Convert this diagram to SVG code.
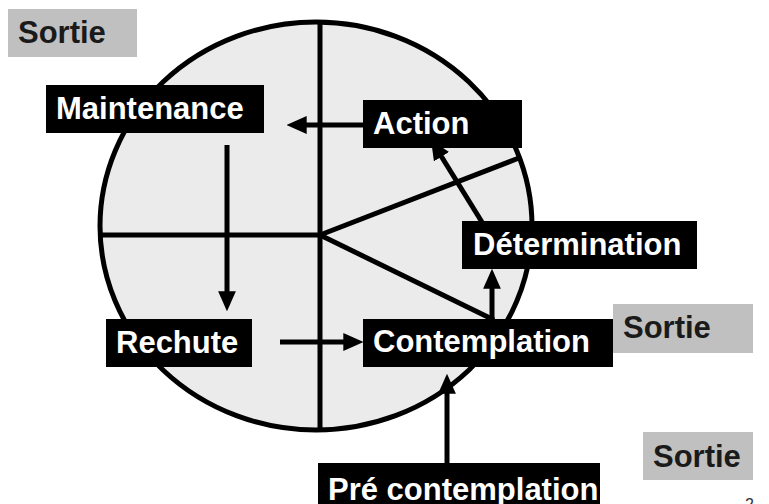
<svg xmlns="http://www.w3.org/2000/svg" width="769" height="504" viewBox="0 0 769 504">
<style>
.lbl{font-family:"Liberation Sans",Arial,sans-serif;font-weight:bold;font-size:31px}
.w{fill:#ffffff}
.d{fill:#1a1a1a}
.blk{fill:#000000}
.gry{fill:#c0c0c0}
.div{stroke:#000;stroke-width:5;fill:none}
.con{stroke:#000;stroke-width:5;fill:none;marker-end:url(#ah)}
</style>
<defs>
<marker id="ah" markerUnits="userSpaceOnUse" markerWidth="20" markerHeight="18" viewBox="0 0 18 16" refX="6" refY="8" orient="auto">
<path d="M0,0 L18,8 L0,16 z" fill="#000"/>
</marker>
</defs>
<rect width="769" height="504" fill="#ffffff"/>
<g id="wheel">
<ellipse cx="316" cy="226" rx="216" ry="204" fill="#ebebeb" stroke="#000" stroke-width="5"/>
<line class="div" x1="320" y1="22" x2="320" y2="430"/>
<line class="div" x1="102" y1="235" x2="320" y2="235"/>
<line class="div" x1="320" y1="235" x2="519" y2="158"/>
<line class="div" x1="320" y1="235" x2="494" y2="320"/>
</g>
<g id="connectors">
<line class="con" x1="364" y1="125" x2="300" y2="125"/>
<line class="con" x1="227" y1="145" x2="227" y2="298"/>
<line class="con" x1="280" y1="342" x2="350" y2="342"/>
<line class="con" x1="492" y1="327" x2="492" y2="282"/>
<line class="con" x1="485" y1="227" x2="438" y2="151"/>
<line class="con" x1="447" y1="470" x2="447" y2="387"/>
</g>
<g id="sortie1">
<rect class="gry" x="8" y="9" width="129" height="48"/>
<text class="lbl d" x="18" y="43">Sortie</text>
</g>
<g id="maintenance">
<rect class="blk" x="46" y="85" width="218" height="48"/>
<text class="lbl w" x="56" y="119">Maintenance</text>
</g>
<g id="action">
<rect class="blk" x="363" y="100" width="159" height="48"/>
<text class="lbl w" x="373" y="134">Action</text>
</g>
<g id="determination">
<rect class="blk" x="462" y="221" width="235" height="48"/>
<text class="lbl w" x="473" y="255">Détermination</text>
</g>
<g id="rechute">
<rect class="blk" x="106" y="319" width="146" height="48"/>
<text class="lbl w" x="116" y="353">Rechute</text>
</g>
<g id="contemplation">
<rect class="blk" x="363" y="319" width="250" height="48"/>
<text class="lbl w" x="373" y="352">Contemplation</text>
</g>
<g id="sortie2">
<rect class="gry" x="613" y="304" width="140" height="49"/>
<text class="lbl d" x="623" y="338">Sortie</text>
</g>
<g id="precontemplation">
<rect class="blk" x="318" y="463" width="282" height="45"/>
<text class="lbl w" x="328" y="500">Pré contemplation</text>
</g>
<g id="sortie3">
<rect class="gry" x="643" y="432" width="110" height="48"/>
<text class="lbl d" x="653" y="467">Sortie</text>
</g>
<text x="745" y="510" font-family="Liberation Sans,Arial,sans-serif" font-size="16" fill="#333">2</text>
</svg>
